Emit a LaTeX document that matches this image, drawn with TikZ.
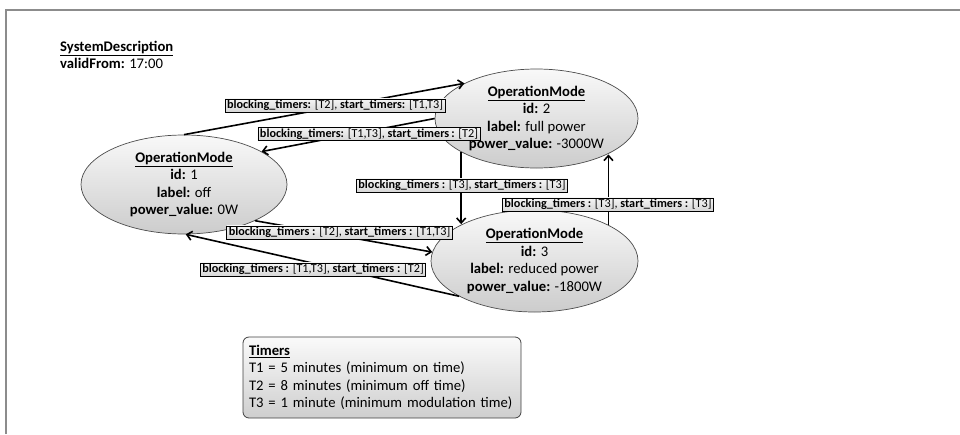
\documentclass[tikz,border=0pt]{standalone}
\usepackage{fontspec}
\setmainfont{Carlito}
\usetikzlibrary{shapes.geometric,arrows.meta}
\begin{document}
\begin{tikzpicture}[x=1pt,y=-1pt,
  state/.style={ellipse, draw=black!70, line width=0.7pt, top color=gray!5, bottom color=gray!40,
    inner sep=0pt, align=center, font=\fontsize{14.67}{17.6}\selectfont},
  lbl/.style={draw=black, line width=0.7pt, top color=gray!8, bottom color=gray!32,
    inner xsep=2pt, inner ysep=1.2pt, font=\fontsize{12.2}{14}\selectfont},
  conn/.style={line width=1.6pt, -{Straight Barb[length=5pt,width=9pt]}},
  tbox/.style={rectangle, rounded corners=6pt, draw=black!75, line width=0.8pt,
    top color=gray!4, bottom color=gray!38, minimum width=278pt, minimum height=81pt,
    text width=266pt, align=left, inner xsep=6pt, font=\fontsize{14.67}{17.5}\selectfont},
  plain/.style={inner sep=0pt, font=\fontsize{14.67}{17.6}\selectfont},
  frame/.style={line width=1.2pt, draw=black!45}
]
\useasboundingbox (0,0) rectangle (960,434);
\draw[frame] (6,434) -- (6,10) -- (960,10);

\node[plain, anchor=base west] (sd) at (60,51) {\underline{\textbf{SystemDescription}}};
\node[plain, anchor=base west] (vf) at (60,68) {\textbf{validFrom:} 17:00};

\node[state, minimum width=206pt, minimum height=99pt] (e1) at (184,184.5)
  {\underline{\textbf{OperationMode}}\\\textbf{id:} 1\\\textbf{label:} off\\\textbf{power\_value:} 0W};
\node[state, minimum width=203pt, minimum height=99pt] (e2) at (536.5,118.5)
  {\underline{\textbf{OperationMode}}\\\textbf{id:} 2\\\textbf{label:} full power\\\textbf{power\_value:} -3000W};
\node[state, minimum width=207pt, minimum height=102pt] (e3) at (534.5,261)
  {\underline{\textbf{OperationMode}}\\\textbf{id:} 3\\\textbf{label:} reduced power\\\textbf{power\_value:} -1800W};

\draw[conn] (e1.north) -- (e2.154.5);
\draw[conn] (e2.180) -- (e1.23.7);
\draw[conn] (e2.204.2) -- (e2.204.2 |- e3.153.3);
\draw[conn] (e3.26) -- (e3.26 |- e2.333.9);
\draw[conn] (e1.333.7) -- (e3.175);
\draw[conn] (e3.205.9) -- (e1.272);

\node[lbl] (l1) at (335,105.5) {\textbf{blocking\_timers:} [T2], \textbf{start\_timers:} [T1,T3]};
\node[lbl] (l2) at (369,134) {\textbf{blocking\_timers:} [T1,T3], \textbf{start\_timers\,:} [T2]};
\node[lbl] (l3) at (462,185.5) {\textbf{blocking\_timers :} [T3], \textbf{start\_timers :} [T3]};
\node[lbl] (l4) at (608,204.5) {\textbf{blocking\_timers :} [T3], \textbf{start\_timers :} [T3]};
\node[lbl] (l5) at (339.5,232.5) {\textbf{blocking\_timers :} [T2], \textbf{start\_timers :} [T1,T3]};
\node[lbl] (l6) at (313,269.5) {\textbf{blocking\_timers :} [T1,T3], \textbf{start\_timers :} [T2]};

\node[tbox] (timers) at (382,377.5)
  {\underline{\textbf{Timers}}\\T1 = 5 minutes (minimum on time)\\T2 = 8 minutes (minimum off time)\\T3 = 1 minute (minimum modulation time)};
\end{tikzpicture}
\end{document}
